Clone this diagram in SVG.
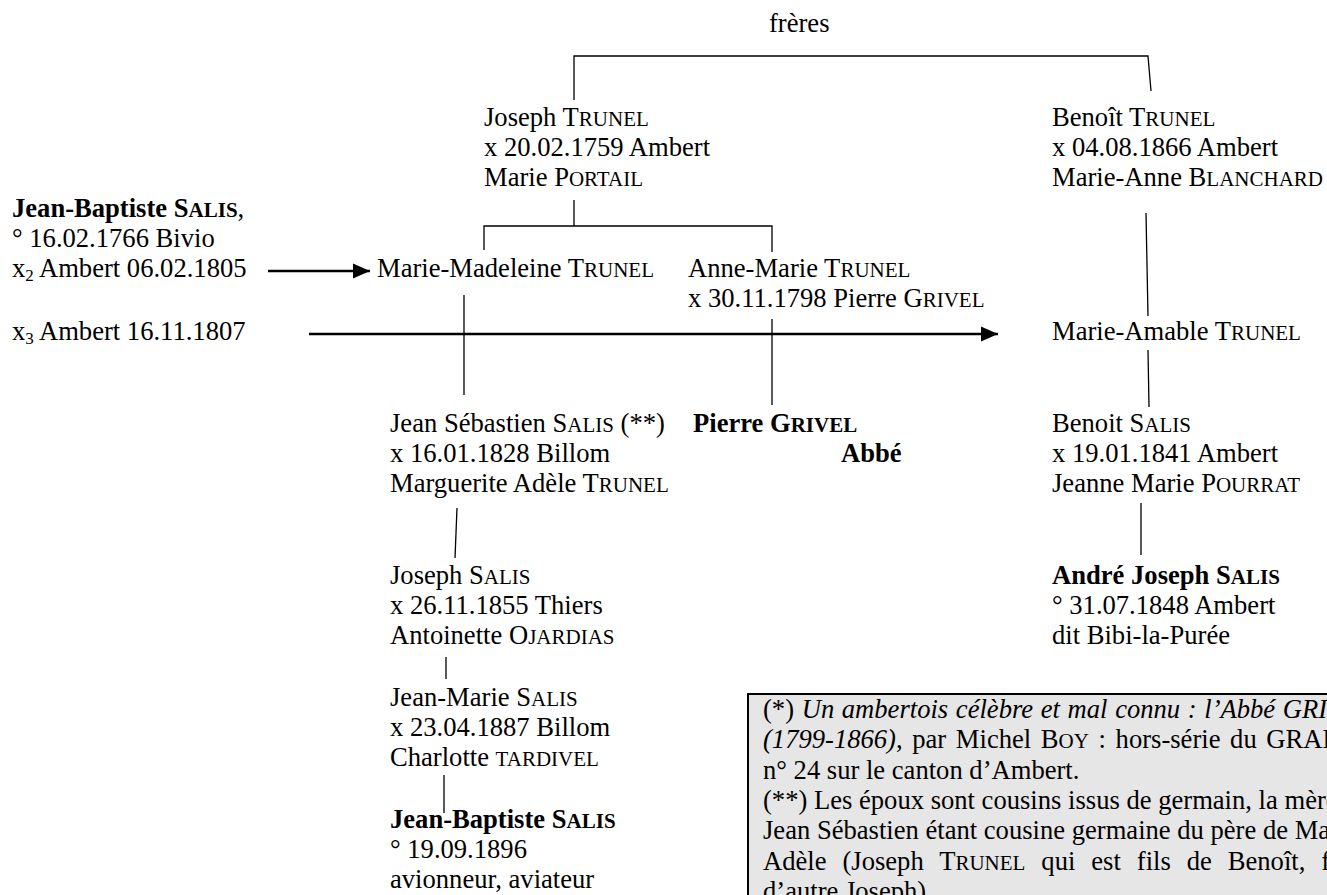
<svg xmlns="http://www.w3.org/2000/svg" width="1327" height="895" viewBox="0 0 1327 895">
<style>
text { font-family: "Liberation Serif", "Times New Roman", serif; font-size: 26.6px; fill: #000; }
.sc { font-size: 21px; }
.sub { font-size: 17px; }
.b { font-weight: bold; }
.i { font-style: italic; }
.ln { stroke: #000; stroke-width: 1.3; fill: none; }
.arr { stroke: #000; stroke-width: 2.4; fill: none; marker-end: url(#ah); }
.box { fill: #e6e6e6; stroke: #000; stroke-width: 2; }
</style>
<defs>
<marker id="ah" markerUnits="userSpaceOnUse" markerWidth="18" markerHeight="16" refX="17" refY="8" orient="auto">
<path d="M0,0.5 L17,8 L0,15.5 z" fill="#000"/>
</marker>
</defs>
<rect width="1327" height="895" fill="#fff"/>

<g id="connectors">
<polyline class="ln" points="574,100 574,56 1148,56 1151,91"/>
<line class="ln" x1="574" y1="200" x2="574" y2="226"/>
<polyline class="ln" points="484,250 484,226 772,226 772,252"/>
<line class="ln" x1="1146" y1="213" x2="1148" y2="316"/>
<line class="ln" x1="464" y1="295" x2="464" y2="395"/>
<line class="ln" x1="772" y1="319" x2="772" y2="405"/>
<line class="ln" x1="1148" y1="350" x2="1149" y2="407"/>
<line class="ln" x1="1141" y1="503" x2="1141" y2="555"/>
<line class="ln" x1="457" y1="508" x2="455" y2="558"/>
<line class="ln" x1="446" y1="657" x2="446" y2="679"/>
<line class="ln" x1="444" y1="775" x2="444" y2="813"/>
<line class="arr" x1="268" y1="271" x2="370" y2="271"/>
<line class="arr" x1="309" y1="334" x2="998" y2="334"/>
</g>

<g id="label-freres"><text x="769" y="32">frères</text></g>

<g id="joseph-trunel">
<text x="484" y="126">Joseph T<tspan class="sc">RUNEL</tspan></text>
<text x="484" y="156">x 20.02.1759 Ambert</text>
<text x="484" y="186">Marie P<tspan class="sc">ORTAIL</tspan></text>
</g>

<g id="benoit-trunel">
<text x="1052" y="126">Benoît T<tspan class="sc">RUNEL</tspan></text>
<text x="1052" y="156">x 04.08.1866 Ambert</text>
<text x="1052" y="186">Marie-Anne B<tspan class="sc">LANCHARD</tspan></text>
</g>

<g id="jean-baptiste-salis-1766">
<text x="12" y="217"><tspan class="b">Jean-Baptiste S</tspan><tspan class="b sc">ALIS</tspan>,</text>
<text x="12" y="247">° 16.02.1766 Bivio</text>
<text x="12" y="277">x<tspan class="sub" dy="4">2</tspan><tspan dy="-4"> Ambert 06.02.1805</tspan></text>
<text x="12" y="340">x<tspan class="sub" dy="4">3</tspan><tspan dy="-4"> Ambert 16.11.1807</tspan></text>
</g>

<g id="marie-madeleine-trunel">
<text x="377" y="277">Marie-Madeleine T<tspan class="sc">RUNEL</tspan></text>
</g>

<g id="anne-marie-trunel">
<text x="688" y="277">Anne-Marie T<tspan class="sc">RUNEL</tspan></text>
<text x="688" y="307">x 30.11.1798 Pierre G<tspan class="sc">RIVEL</tspan></text>
</g>

<g id="marie-amable-trunel">
<text x="1052" y="340">Marie-Amable T<tspan class="sc">RUNEL</tspan></text>
</g>

<g id="jean-sebastien-salis">
<text x="390" y="432">Jean Sébastien S<tspan class="sc">ALIS</tspan> (**)</text>
<text x="390" y="462">x 16.01.1828 Billom</text>
<text x="390" y="492">Marguerite Adèle T<tspan class="sc">RUNEL</tspan></text>
</g>

<g id="pierre-grivel">
<text x="693" y="432" class="b">Pierre G<tspan class="sc">RIVEL</tspan></text>
<text x="841" y="462" class="b">Abbé</text>
</g>

<g id="benoit-salis">
<text x="1052" y="432">Benoit S<tspan class="sc">ALIS</tspan></text>
<text x="1052" y="462">x 19.01.1841 Ambert</text>
<text x="1052" y="492">Jeanne Marie P<tspan class="sc">OURRAT</tspan></text>
</g>

<g id="joseph-salis">
<text x="390" y="584">Joseph S<tspan class="sc">ALIS</tspan></text>
<text x="390" y="614">x 26.11.1855 Thiers</text>
<text x="390" y="644">Antoinette O<tspan class="sc">JARDIAS</tspan></text>
</g>

<g id="andre-joseph-salis">
<text x="1052" y="584"><tspan class="b">André Joseph S</tspan><tspan class="b sc">ALIS</tspan></text>
<text x="1052" y="614">° 31.07.1848 Ambert</text>
<text x="1052" y="644">dit Bibi-la-Purée</text>
</g>

<g id="jean-marie-salis">
<text x="390" y="706">Jean-Marie S<tspan class="sc">ALIS</tspan></text>
<text x="390" y="736">x 23.04.1887 Billom</text>
<text x="390" y="766">Charlotte <tspan class="sc">TARDIVEL</tspan></text>
</g>

<g id="jean-baptiste-salis-1896">
<text x="390" y="828"><tspan class="b">Jean-Baptiste S</tspan><tspan class="b sc">ALIS</tspan></text>
<text x="390" y="858">° 19.09.1896</text>
<text x="390" y="888">avionneur, aviateur</text>
</g>

<g id="notes">
<rect class="box" x="748" y="694" width="700" height="300"/>
<text x="763" y="718" word-spacing="1">(*) <tspan class="i">Un ambertois célèbre et mal connu : l’Abbé GRIVEL</tspan></text>
<text x="763" y="748" word-spacing="3"><tspan class="i">(1799-1866)</tspan>, par Michel B<tspan class="sc">OY</tspan> : hors-série du GRAHLF</text>
<text x="763" y="778.5">n° 24 sur le canton d’Ambert.</text>
<text x="763" y="809">(**) Les époux sont cousins issus de germain, la mère</text>
<text x="763" y="839">Jean Sébastien étant cousine germaine du père de Marguerite</text>
<text x="763" y="869.5" word-spacing="9.3">Adèle (Joseph T<tspan class="sc">RUNEL</tspan> qui est fils de Benoît, frère</text>
<text x="763" y="900">d’autre Joseph).</text>
</g>
</svg>
